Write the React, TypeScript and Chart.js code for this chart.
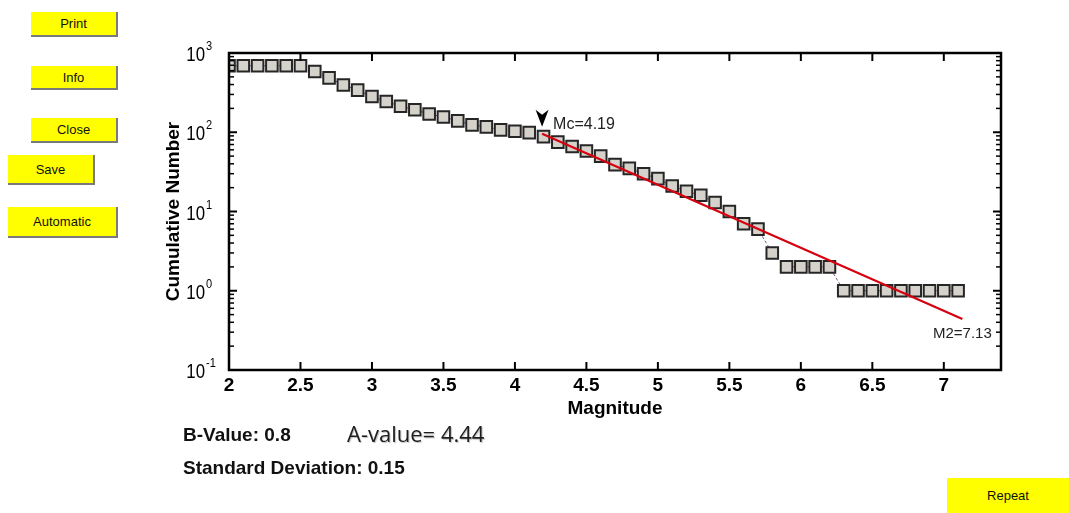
import React, { useEffect, useRef } from "react";
import { Chart, registerables } from "chart.js";

Chart.register(...registerables);

// ---- data ----
const magnitudes = [
  2.0, 2.1, 2.2, 2.3, 2.4, 2.5, 2.6, 2.7, 2.8, 2.9,
  3.0, 3.1, 3.2, 3.3, 3.4, 3.5, 3.6, 3.7, 3.8, 3.9,
  4.0, 4.1, 4.2, 4.3, 4.4, 4.5, 4.6, 4.7, 4.8, 4.9,
  5.0, 5.1, 5.2, 5.3, 5.4, 5.5, 5.6, 5.7, 5.8, 5.9,
  6.0, 6.1, 6.2, 6.3, 6.4, 6.5, 6.6, 6.7, 6.8, 6.9,
  7.0, 7.1,
];
const cumulativeCounts = [
  690, 690, 690, 690, 690, 690, 585, 485, 395, 340,
  282, 244, 213, 192, 170, 156, 139, 124, 117, 107,
  103, 99, 88, 75, 66, 58, 50, 39, 35, 30,
  26, 21, 18, 16, 13, 10, 7, 6, 3, 2,
  2, 2, 2, 1, 1, 1, 1, 1, 1, 1,
  1, 1,
];
const fitMagnitudes = [4.19, 7.13];
const fitCounts = [96, 0.44];
const yDecades = [0.1, 1, 10, 100, 1000];
const yMinorMultipliers = [2, 3, 4, 5, 6, 7, 8, 9];
const mcLabel = "Mc=4.19";
const m2Label = "M2=7.13";
const xTitle = "Magnitude";
const yTitle = "Cumulative Number";
const bValueText = "B-Value: 0.8";
const aValueText = "A-value= 4.44";
const stdDevText = "Standard Deviation: 0.15";

const FONT = "'Liberation Sans', Arial, sans-serif";

const framePlugin = {
  id: "frameAndLabels",
  afterDraw(chart: any) {
    const { ctx, chartArea, scales } = chart;
    const { left, right, top, bottom } = chartArea;
    const x = scales.x;
    const y = scales.y;
    const line = (x1: number, y1: number, x2: number, y2: number) => {
      ctx.beginPath();
      ctx.moveTo(x1, y1);
      ctx.lineTo(x2, y2);
      ctx.stroke();
    };
    ctx.save();
    ctx.strokeStyle = "#000";
    ctx.lineCap = "butt";
    // major x ticks, bottom & top, pointing inward
    ctx.lineWidth = 2;
    x.ticks.forEach((t: any) => {
      const px = x.getPixelForValue(t.value);
      line(px, bottom, px, bottom - 8);
      line(px, top, px, top + 8);
    });
    // major y ticks
    y.ticks.forEach((t: any) => {
      const py = y.getPixelForValue(t.value);
      line(left, py, left + 8, py);
      line(right, py, right - 8, py);
    });
    // minor y ticks
    ctx.lineWidth = 1.5;
    yDecades.slice(0, -1).forEach((d) => {
      yMinorMultipliers.forEach((m) => {
        const py = y.getPixelForValue(d * m);
        line(left, py, left + 5, py);
        line(right, py, right - 5, py);
      });
    });
    // frame
    ctx.lineWidth = 2.5;
    ctx.strokeRect(left, top, right - left, bottom - top);

    // y tick labels 10^n
    ctx.fillStyle = "#000";
    y.ticks.forEach((t: any) => {
      const py = y.getPixelForValue(t.value);
      const exp = Math.round(Math.log10(t.value));
      ctx.save();
      ctx.translate(205, py + 8);
      ctx.scale(0.8, 1);
      ctx.font = `21px ${FONT}`;
      ctx.textAlign = "right";
      ctx.textBaseline = "alphabetic";
      ctx.fillText("10", 0, 0);
      ctx.restore();
      ctx.save();
      ctx.translate(206, py - 3);
      ctx.scale(0.85, 1);
      ctx.font = `13px ${FONT}`;
      ctx.textAlign = "left";
      ctx.textBaseline = "alphabetic";
      ctx.fillText(String(exp), 0, 0);
      ctx.restore();
    });

    // Mc marker and label
    const sx = x.getPixelForValue(fitMagnitudes[0]);
    const sy = y.getPixelForValue(fitCounts[0]);
    ctx.fillStyle = "#000";
    ctx.beginPath();
    ctx.moveTo(sx - 6.5, sy - 24);
    ctx.lineTo(sx, sy - 19);
    ctx.lineTo(sx + 6.5, sy - 24);
    ctx.lineTo(sx, sy - 7);
    ctx.closePath();
    ctx.fill();
    ctx.fillStyle = "#222";
    ctx.font = `16px ${FONT}`;
    ctx.textAlign = "left";
    ctx.textBaseline = "alphabetic";
    ctx.fillText(mcLabel, sx + 11, sy - 5);

    // M2 label
    const ex = x.getPixelForValue(fitMagnitudes[1]);
    const ey = y.getPixelForValue(fitCounts[1]);
    ctx.font = `15px ${FONT}`;
    ctx.textAlign = "center";
    ctx.fillText(m2Label, ex, ey + 19);
    ctx.restore();
  },
};

const btnBase: React.CSSProperties = {
  position: "absolute",
  boxSizing: "border-box",
  background: "#ffff00",
  borderRight: "2px solid #7a7a7a",
  borderBottom: "2px solid #7a7a7a",
  fontFamily: FONT,
  fontSize: 13,
  color: "#111",
  display: "flex",
  alignItems: "center",
  justifyContent: "center",
};

const buttonLabels = ["Print", "Info", "Close", "Save", "Automatic"];
const buttonBoxes = [
  { left: 31, top: 12, width: 87, height: 25 },
  { left: 31, top: 66, width: 87, height: 24 },
  { left: 31, top: 118, width: 87, height: 25 },
  { left: 8, top: 155, width: 87, height: 30 },
  { left: 8, top: 207, width: 110, height: 31 },
];

export default function App() {
  const canvasRef = useRef<HTMLCanvasElement | null>(null);

  useEffect(() => {
    const canvas = canvasRef.current;
    if (!canvas) return;
    const chart = new Chart(canvas, {
      type: "scatter",
      data: {
        datasets: [
          {
            label: "fit",
            data: fitMagnitudes.map((m, i) => ({ x: m, y: fitCounts[i] })),
            showLine: true,
            borderColor: "#d6000f",
            borderWidth: 2.2,
            pointRadius: 0,
            order: 1,
          },
          {
            label: "cumulative",
            data: magnitudes.map((m, i) => ({ x: m, y: cumulativeCounts[i] })),
            showLine: true,
            borderColor: "#7a5a8c",
            borderWidth: 1,
            borderDash: [3, 2],
            pointStyle: "rect",
            pointRadius: 8.2,
            pointBackgroundColor: "#d5d2cc",
            pointBorderColor: "#262626",
            pointBorderWidth: 2,
            order: 2,
          },
        ],
      },
      options: {
        animation: false,
        responsive: false,
        maintainAspectRatio: false,
        layout: { padding: { left: 162, top: 53, right: 68, bottom: 93 } },
        plugins: {
          legend: { display: false },
          tooltip: { enabled: false },
        },
        scales: {
          x: {
            type: "linear",
            min: 2,
            max: 7.4,
            grid: { display: false, drawTicks: false },
            border: { display: false },
            ticks: {
              stepSize: 0.5,
              includeBounds: false,
              autoSkip: false,
              maxRotation: 0,
              padding: 4,
              color: "#000",
              font: { family: FONT, size: 19, weight: "bold" },
              callback: (v: any) => String(v),
            },
            title: {
              display: true,
              text: xTitle,
              color: "#000",
              padding: 0,
              font: { family: FONT, size: 19, weight: "bold" },
            },
            afterFit: (s: any) => {
              s.height = 50;
            },
          },
          y: {
            type: "logarithmic",
            min: 0.1,
            max: 1000,
            grid: { display: false, drawTicks: false },
            border: { display: false },
            ticks: { display: false },
            afterBuildTicks: (s: any) => {
              s.ticks = yDecades.map((v) => ({ value: v }));
            },
            title: {
              display: true,
              text: yTitle,
              color: "#000",
              padding: 0,
              font: { family: FONT, size: 19, weight: "bold" },
            },
            afterFit: (s: any) => {
              s.width = 67;
            },
          },
        },
      },
      plugins: [framePlugin],
    } as any);
    return () => chart.destroy();
  }, []);

  return (
    <div
      style={{
        position: "absolute",
        left: 0,
        top: 0,
        width: 1069,
        height: 513,
        background: "#fff",
        overflow: "hidden",
      }}
    >
      <canvas
        ref={canvasRef}
        width={1069}
        height={513}
        style={{ position: "absolute", left: 0, top: 0, display: "block" }}
      />
      {buttonLabels.map((label, i) => (
        <div key={label} style={{ ...btnBase, ...buttonBoxes[i] }}>
          {label}
        </div>
      ))}
      <div
        style={{
          ...btnBase,
          left: 947,
          top: 478,
          width: 122,
          height: 35,
          borderRight: "none",
          borderBottom: "none",
          fontSize: 13,
        }}
      >
        Repeat
      </div>
      <div
        style={{
          position: "absolute",
          left: 183,
          top: 425,
          fontFamily: FONT,
          fontWeight: "bold",
          fontSize: 19,
          lineHeight: "19px",
          color: "#111",
          whiteSpace: "nowrap",
        }}
      >
        {bValueText}
      </div>
      <div
        style={{
          position: "absolute",
          left: 347,
          top: 422,
          fontFamily: "'Open Sans', sans-serif",
          fontSize: 22,
          lineHeight: "22px",
          color: "#1e1e1e",
          textShadow: "1px 1px 1px rgba(0,0,0,0.25)",
          whiteSpace: "nowrap",
        }}
      >
        {aValueText}
      </div>
      <div
        style={{
          position: "absolute",
          left: 183,
          top: 458,
          fontFamily: FONT,
          fontWeight: "bold",
          fontSize: 19,
          lineHeight: "19px",
          color: "#111",
          whiteSpace: "nowrap",
        }}
      >
        {stdDevText}
      </div>
    </div>
  );
}
